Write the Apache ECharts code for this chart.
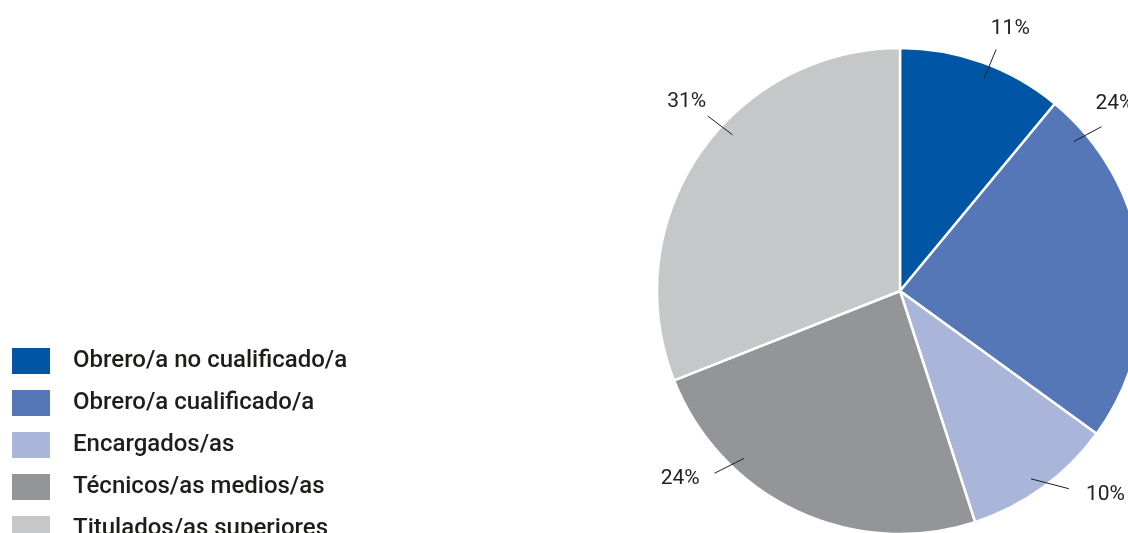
<!DOCTYPE html>
<html>
<head>
<meta charset="utf-8">
<script src="https://cdn.jsdelivr.net/npm/echarts@6/dist/echarts.min.js"></script>
<style>
  html, body { margin: 0; padding: 0; background: #fff; }
  #pieChart { width: 1128px; height: 533px; }
</style>
</head>
<body>
<div id="pieChart"></div>
<script>
// categorías y porcentajes
var categories = ['Obrero/a no cualificado/a', 'Obrero/a cualificado/a', 'Encargados/as', 'Técnicos/as medios/as', 'Titulados/as superiores'];
var values = [11, 24, 10, 24, 31];
var colors = ['#0055a4', '#5577b7', '#a9b6da', '#939598', '#c6c7c9'];

// geometría del pie (px)
var CX = 900, CY = 291, R = 243;
// ángulos (grados, desde arriba, sentido horario) de las líneas guía y etiquetas
var lineFrom = [21.6, 49.3, 145.1, 223, 313];
var lineTo = [21.7, 50.8, 139.5, 225.5, 312.3];
var textAngle = [22.6, 48.5, 134.3, 230, 312];

function polar(angle, r) {
  var a = angle * Math.PI / 180;
  return [CX + r * Math.sin(a), CY - r * Math.cos(a)];
}

var pieChart = echarts.init(document.getElementById('pieChart'));

var pieData = categories.map(function (name, i) {
  return { name: name, value: values[i], itemStyle: { color: colors[i] } };
});
// misma serie, transparente, solo para etiquetas y líneas encima del pie
var labelData = categories.map(function (name, i) {
  return { name: name, value: values[i] };
});

var option = {
  animation: false,
  legend: {
    orient: 'vertical',
    left: 10,
    top: 346,
    height: 260,
    padding: 0,
    icon: 'rect',
    itemWidth: 40,
    itemHeight: 28,
    itemGap: 12,
    selectedMode: false,
    textStyle: {
      fontFamily: 'Roboto',
      fontSize: 24,
      fontWeight: 500,
      lineHeight: 28,
      color: '#1d1d1b',
      padding: [0, 0, 0, 17]
    },
    data: categories.map(function (name, i) {
      return { name: name, itemStyle: { color: colors[i] } };
    })
  },
  series: [
    {
      name: 'Categoría',
      type: 'pie',
      z: 2,
      center: [CX, CY],
      radius: R,
      startAngle: 90,
      clockwise: true,
      silent: true,
      itemStyle: {
        borderColor: '#fff',
        borderWidth: 2.5
      },
      label: { show: false },
      labelLine: { show: false },
      data: pieData
    },
    {
      name: 'Etiquetas',
      type: 'pie',
      z: 5,
      center: [CX, CY],
      radius: R,
      startAngle: 90,
      clockwise: true,
      silent: true,
      avoidLabelOverlap: false,
      itemStyle: {
        color: 'rgba(0,0,0,0)',
        borderWidth: 0
      },
      label: {
        show: true,
        position: 'outside',
        formatter: '{c}%',
        fontFamily: 'Roboto',
        fontSize: 21,
        color: '#222'
      },
      labelLine: {
        show: true,
        length: 20,
        length2: 0,
        lineStyle: { color: '#1d1d1b', width: 1 }
      },
      labelLayout: function (params) {
        var i = params.dataIndex;
        var p = polar(textAngle[i], 287);
        var a = polar(lineFrom[i], 229);
        var b = polar(lineTo[i], 260);
        return {
          x: p[0],
          y: p[1] + 3,
          align: 'center',
          verticalAlign: 'middle',
          labelLinePoints: [a, b, b]
        };
      },
      data: labelData
    }
  ]
};

pieChart.setOption(option);
</script>
</body>
</html>
